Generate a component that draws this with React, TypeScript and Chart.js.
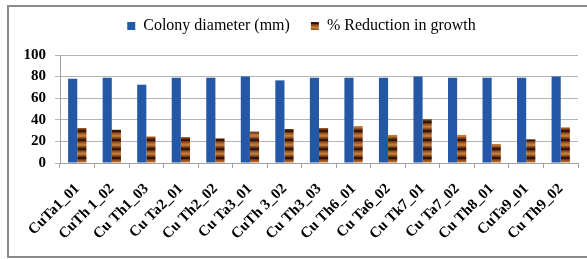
import React, { useEffect, useRef } from "react";
import { Chart, registerables } from "chart.js";

Chart.register(...registerables);

const categories = [
  "CuTa1_01", "CuTh 1_02", "Cu Th1_03", "Cu Ta2_01", "Cu Th2_02",
  "Cu Ta3_01", "CuTh 3_02", "Cu Th3_03", "Cu Th6_01", "Cu Ta6_02",
  "Cu Tk7_01", "Cu Ta7_02", "Cu Th8_01", "CuTa9_01", "Cu Th9_02",
];
const colonyDiameter = [78, 79, 72.5, 79, 79, 80, 76.5, 79, 79, 79, 80, 79, 79, 79, 80];
const reductionGrowth = [32.4, 30.8, 24.6, 24, 22.8, 29, 31.5, 32.4, 34.2, 26, 40.7, 26, 17.6, 21.9, 33];
const yTicks = [0, 20, 40, 60, 80, 100];

function makePattern(): CanvasPattern | string {
  const c = document.createElement("canvas");
  c.width = 1;
  c.height = 9;
  const ctx = c.getContext("2d");
  if (!ctx) return "#8B4513";
  const rows = ["#9a5020", "#b06a2c", "#c07e3c", "#b87434", "#9a5222", "#6e3412", "#3a1a08", "#2c1206", "#743c14"];
  rows.forEach((col, i) => {
    ctx.fillStyle = col;
    ctx.fillRect(0, i, 1, 1);
  });
  const p = ctx.createPattern(c, "repeat");
  return p || "#8B4513";
}

const legendTweak = {
  id: "legendTweak",
  beforeLayout(chart: any) {
    const lg = chart.legend;
    if (lg && !lg.__patched) {
      const f = lg.fit;
      lg.fit = function (this: any) {
        f.call(this);
        this.height = 48;
      };
      lg.__patched = true;
    }
  },
  afterLayout(chart: any) {
    const lg = chart.legend;
    if (lg) {
      lg.top = -10;
      lg.bottom = lg.top + lg.height;
      lg.left += 8;
      lg.right += 8;
    }
  },
};

export default function App() {
  const ref = useRef<HTMLCanvasElement | null>(null);
  useEffect(() => {
    document.body.style.overflow = "hidden";
    if (!ref.current) return;
    const pattern = makePattern();
    const serif = "'Liberation Serif', 'Times New Roman', serif";
    const chart = new Chart(ref.current, {
      type: "bar",
      data: {
        labels: categories,
        datasets: [
          {
            label: "Colony diameter (mm)",
            data: colonyDiameter,
            backgroundColor: "#2457a5",
            categoryPercentage: 0.53,
            barPercentage: 1,
          },
          {
            label: "% Reduction in growth",
            data: reductionGrowth,
            backgroundColor: pattern as any,
            categoryPercentage: 0.53,
            barPercentage: 1,
          },
        ],
      },
      options: {
        animation: false,
        responsive: false,
        layout: { padding: { left: 0, right: 9, top: 0, bottom: 0 } },
        plugins: {
          legend: {
            position: "top",
            labels: {
              boxWidth: 8,
              boxHeight: 8,
              padding: 21,
              color: "#000",
              font: { family: serif, size: 16 },
            },
          },
          tooltip: { enabled: false },
        },
        scales: {
          x: {
            grid: {
              drawOnChartArea: false,
              drawTicks: true,
              tickLength: 5,
              color: "#a0a0a0",
            },
            border: { color: "#a0a0a0" },
            ticks: {
              color: "#000",
              minRotation: 45,
              maxRotation: 45,
              autoSkip: false,
              padding: 12,
              font: { family: serif, size: 15, weight: "bold" },
            },
            afterFit: (s: any) => {
              s.height = 92;
            },
          },
          y: {
            min: 0,
            max: 100,
            afterBuildTicks: (s: any) => {
              s.ticks = yTicks.map((v) => ({ value: v }));
            },
            grid: { color: "#b4b4b4", tickLength: 5, lineWidth: 1 },
            border: { color: "#a0a0a0" },
            ticks: {
              color: "#000",
              padding: 9,
              font: { family: serif, size: 15, weight: "bold" },
            },
            afterFit: (s: any) => {
              s.width = 51;
            },
          },
        },
      },
      plugins: [legendTweak],
    });
    return () => chart.destroy();
  }, []);
  return (
    <div
      style={{
        position: "absolute",
        left: 7,
        top: 5,
        width: 583,
        height: 253,
        border: "2px solid #8c8c8c",
        boxSizing: "border-box",
        background: "#fff",
        overflow: "hidden",
      }}
    >
      <canvas
        ref={ref}
        width={578}
        height={248}
        style={{ position: "absolute", left: 0, top: 0, width: 578, height: 248 }}
      />
    </div>
  );
}
